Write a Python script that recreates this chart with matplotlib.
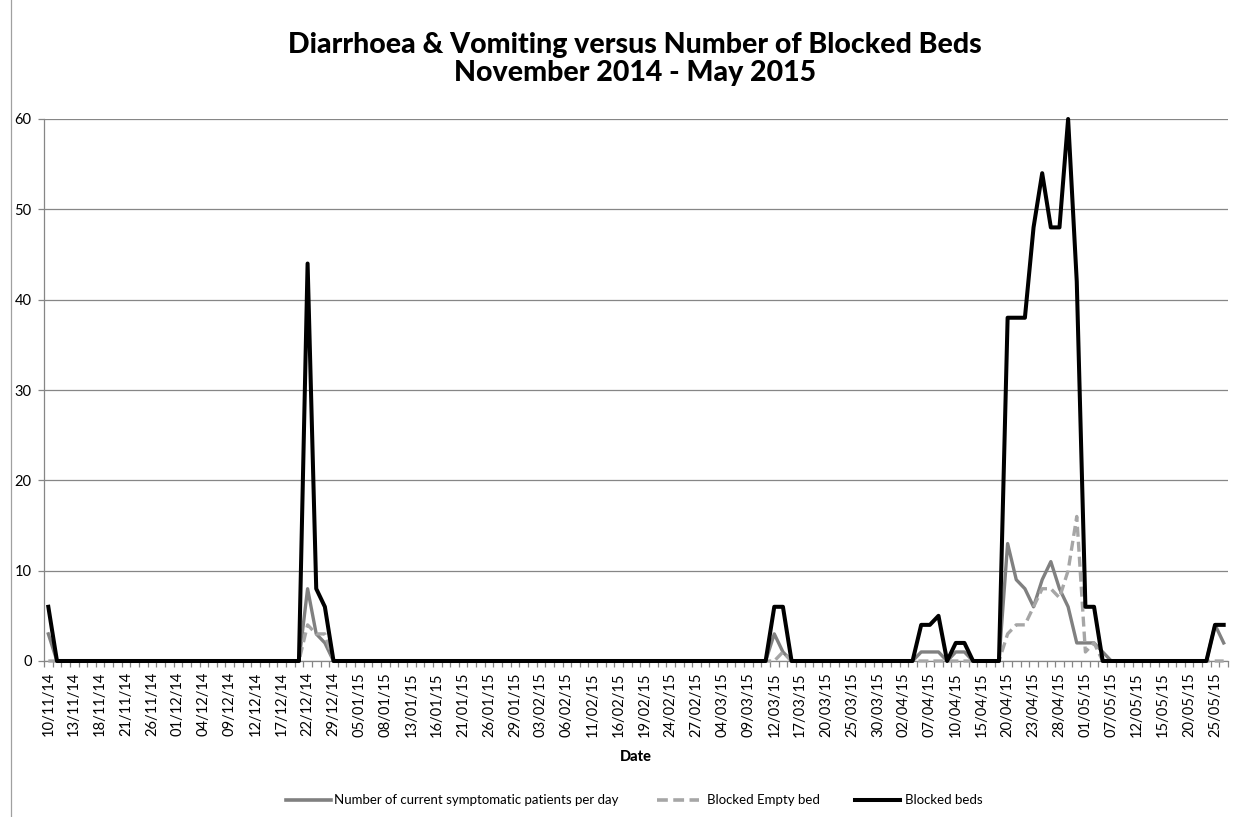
import numpy as np
import pandas as pd
import matplotlib
matplotlib.use("Agg")
import matplotlib.pyplot as plt
from matplotlib.lines import Line2D

plt.rcParams['font.family'] = ['Lato', 'DejaVu Sans']

# Working days shown on the category axis (bank holidays without data removed)
start_date = "2014-11-10"
end_date = "2015-05-26"
skipped_days = ["2014-12-25", "2014-12-26", "2015-01-01", "2015-01-02", "2015-05-04"]
days = [d for d in pd.bdate_range(start_date, end_date)
        if d.strftime("%Y-%m-%d") not in skipped_days]
day_labels = [d.strftime("%d/%m/%y") for d in days]

# Number of current symptomatic patients per day
symptomatic = [
    3, 0, 0, 0, 0, 0, 0, 0, 0, 0,    # 0-9
    0, 0, 0, 0, 0, 0, 0, 0, 0, 0,    # 10-19
    0, 0, 0, 0, 0, 0, 0, 0, 0, 0,    # 20-29
    8, 3, 2, 0, 0, 0, 0, 0, 0, 0,    # 30-39
    0, 0, 0, 0, 0, 0, 0, 0, 0, 0,    # 40-49
    0, 0, 0, 0, 0, 0, 0, 0, 0, 0,    # 50-59
    0, 0, 0, 0, 0, 0, 0, 0, 0, 0,    # 60-69
    0, 0, 0, 0, 0, 0, 0, 0, 0, 0,    # 70-79
    0, 0, 0, 0, 3, 1, 0, 0, 0, 0,    # 80-89
    0, 0, 0, 0, 0, 0, 0, 0, 0, 0,    # 90-99
    0, 1, 1, 1, 0, 1, 1, 0, 0, 0,    # 100-109
    0, 13, 9, 8, 6, 9, 11, 8, 6, 2,  # 110-119
    2, 2, 1, 0, 0, 0, 0, 0, 0, 0,    # 120-129
    0, 0, 0, 0, 0, 4, 2,             # 130-136
]

# Blocked empty beds
blocked_empty = [
    0, 0, 0, 0, 0, 0, 0, 0, 0, 0,
    0, 0, 0, 0, 0, 0, 0, 0, 0, 0,
    0, 0, 0, 0, 0, 0, 0, 0, 0, 0,
    4, 3, 3, 0, 0, 0, 0, 0, 0, 0,
    0, 0, 0, 0, 0, 0, 0, 0, 0, 0,
    0, 0, 0, 0, 0, 0, 0, 0, 0, 0,
    0, 0, 0, 0, 0, 0, 0, 0, 0, 0,
    0, 0, 0, 0, 0, 0, 0, 0, 0, 0,
    0, 0, 0, 0, 0, 1, 0, 0, 0, 0,
    0, 0, 0, 0, 0, 0, 0, 0, 0, 0,
    0, 0, 0, 0, 0, 0, 0, 0, 0, 0,
    0, 3, 4, 4, 6, 8, 8, 7, 10, 16,
    1, 2, 0, 0, 0, 0, 0, 0, 0, 0,
    0, 0, 0, 0, 0, 0, 0,
]

# Blocked beds
blocked_beds = [
    6, 0, 0, 0, 0, 0, 0, 0, 0, 0,
    0, 0, 0, 0, 0, 0, 0, 0, 0, 0,
    0, 0, 0, 0, 0, 0, 0, 0, 0, 0,
    44, 8, 6, 0, 0, 0, 0, 0, 0, 0,
    0, 0, 0, 0, 0, 0, 0, 0, 0, 0,
    0, 0, 0, 0, 0, 0, 0, 0, 0, 0,
    0, 0, 0, 0, 0, 0, 0, 0, 0, 0,
    0, 0, 0, 0, 0, 0, 0, 0, 0, 0,
    0, 0, 0, 0, 6, 6, 0, 0, 0, 0,
    0, 0, 0, 0, 0, 0, 0, 0, 0, 0,
    0, 4, 4, 5, 0, 2, 2, 0, 0, 0,
    0, 38, 38, 38, 48, 54, 48, 48, 60, 42,
    6, 6, 0, 0, 0, 0, 0, 0, 0, 0,
    0, 0, 0, 0, 0, 4, 4,
]

series_names = ["Number of current symptomatic patients per day",
                "Blocked Empty bed", "Blocked beds"]
title_lines = ["Diarrhoea & Vomiting versus Number of Blocked Beds",
               "November 2014 - May 2015"]
y_ticks = [0, 10, 20, 30, 40, 50, 60]

GRID = "#868686"
C_SYM = "#808080"
C_EMPTY = "#A6A6A6"
C_BEDS = "#000000"

W, H = 1250, 817
fig = plt.figure(figsize=(W / 100, H / 100), dpi=100)
fig.patch.set_facecolor("white")

left, right, top, bottom = 44, 1228, 119, 661
ax = fig.add_axes([left / W, 1 - bottom / H, (right - left) / W, (bottom - top) / H])

n = len(days)
x = np.arange(n)
ax.plot(x, symptomatic, color=C_SYM, lw=2.4, solid_joinstyle="round",
        clip_on=False, zorder=3)
ax.plot(x, blocked_empty, color=C_EMPTY, lw=2.4, dashes=(3.0, 1.5),
        clip_on=False, zorder=4)
ax.plot(x, blocked_beds, color=C_BEDS, lw=2.9, solid_joinstyle="round",
        clip_on=False, zorder=5)

ax.set_xlim(-0.5, n - 0.5)
ax.set_ylim(0, 60)

ax.set_yticks(y_ticks)
ax.set_yticklabels([str(v) for v in y_ticks])
ax.yaxis.grid(True, color=GRID, lw=0.9)
ax.set_axisbelow(True)
ax.tick_params(axis="y", direction="out", length=4, width=0.9, color=GRID,
               labelsize=10.5, pad=5, labelcolor="black")

major = np.arange(0, n, 3)
ax.set_xticks(major)
ax.set_xticklabels([day_labels[i] for i in major], rotation=90)
ax.set_xticks(np.arange(-0.5, n, 1), minor=True)
ax.tick_params(axis="x", which="major", length=0, labelsize=10.6, pad=8,
               labelcolor="black")
ax.tick_params(axis="x", which="minor", direction="out", length=4, width=0.9,
               color=GRID)

for side in ("top", "right"):
    ax.spines[side].set_visible(False)
for side in ("left", "bottom"):
    ax.spines[side].set_color(GRID)
    ax.spines[side].set_linewidth(0.9)

# Titles
fig.text(635 / W, 1 - 45 / H, title_lines[0], ha="center", va="center",
         fontsize=20.5, fontweight="black")
fig.text(635 / W, 1 - 73 / H, title_lines[1], ha="center", va="center",
         fontsize=20.5, fontweight="black")
fig.text(636 / W, 1 - 757 / H, "Date", ha="center", va="center",
         fontsize=10.5, fontweight="black")

# Legend drawn along the bottom of the chart area
ly = 1 - 800 / H
legend_items = [
    (286, 331, 334, dict(color=C_SYM, lw=2.6)),
    (657, 699, 707, dict(color=C_EMPTY, lw=2.6, dashes=(3.0, 1.5))),
    (855, 900, 905, dict(color=C_BEDS, lw=2.9)),
]
for (x0, x1, tx, style), name in zip(legend_items, series_names):
    fig.add_artist(Line2D([x0 / W, x1 / W], [ly, ly], transform=fig.transFigure,
                          **style))
    fig.text(tx / W, ly, name, ha="left", va="center", fontsize=9.5)

# Chart area border
fig.add_artist(Line2D([10.5 / W, 10.5 / W], [0, 1], transform=fig.transFigure,
                      color="#A0A0A0", lw=0.9))

fig.savefig("out.png", dpi=100)
